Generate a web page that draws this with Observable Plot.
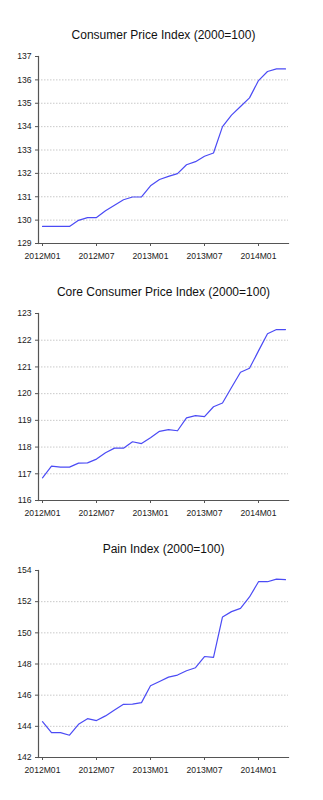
<!DOCTYPE html>
<html>
<head>
<meta charset="utf-8">
<script src="https://cdn.jsdelivr.net/npm/d3@7"></script>
<script src="https://cdn.jsdelivr.net/npm/@observablehq/plot@0.6"></script>
<style>
  html, body { margin: 0; padding: 0; background: #fff; }
  #charts { width: 323px; }
  #charts svg { display: block; overflow: visible; }
</style>
</head>
<body>
<div id="charts"></div>
<script>
// Monthly categories 2012M01 .. 2014M04
const years = [2012, 2013, 2014];
const months = [];
for (const yr of years) for (let m = 1; m <= 12; m++) {
  if (yr === 2014 && m > 4) break;
  months.push(yr + "M" + String(m).padStart(2, "0"));
}
const xTicks = ["2012M01", "2012M07", "2013M01", "2013M07", "2014M01"];

const titles = [
  "Consumer Price Index (2000=100)",
  "Core Consumer Price Index (2000=100)",
  "Pain Index (2000=100)"
];

const cpi = [129.73, 129.73, 129.73, 129.73, 129.99, 130.11, 130.11, 130.40, 130.64, 130.87,
  130.99, 130.99, 131.47, 131.74, 131.87, 131.99, 132.37, 132.50, 132.73, 132.87,
  134.00, 134.49, 134.86, 135.23, 135.97, 136.36, 136.47, 136.47];

const coreCpi = [116.85, 117.29, 117.25, 117.25, 117.40, 117.41, 117.55, 117.79, 117.96, 117.96,
  118.20, 118.13, 118.35, 118.59, 118.65, 118.61, 119.09, 119.18, 119.14, 119.51,
  119.65, 120.23, 120.80, 120.95, 121.60, 122.24, 122.40, 122.40];

const pain = [144.30, 143.60, 143.60, 143.43, 144.13, 144.49, 144.37, 144.67, 145.05, 145.41,
  145.43, 145.52, 146.60, 146.88, 147.16, 147.29, 147.57, 147.76, 148.48, 148.42,
  151.02, 151.36, 151.57, 152.30, 153.28, 153.28, 153.45, 153.41];

const yDomains = [[129, 137], [116, 123], [142, 154]];
const yTickSteps = [1, 1, 2];
const seriesList = [cpi, coreCpi, pain];

const heights = [257, 257, 286];
const marginBottoms = [14, 14, 43];

const container = document.getElementById("charts");

seriesList.forEach((values, i) => {
  const data = months.map((m, j) => ({month: m, value: values[j]}));
  const [y0, y1] = yDomains[i];
  const ticks = d3.range(y0, y1 + 0.001, yTickSteps[i]);
  const gridTicks = ticks.filter(t => t > y0 && t < y1);
  const chart = Plot.plot({
    width: 323,
    height: heights[i],
    marginTop: 56,
    marginBottom: marginBottoms[i],
    marginLeft: 38,
    marginRight: 35,
    style: {fontFamily: "'Liberation Sans', Arial, sans-serif", fontSize: "8.6px", color: "#222", background: "#fff", overflow: "visible"},
    x: {type: "point", domain: months, padding: 0},
    y: {domain: yDomains[i]},
    marks: [
      Plot.ruleY(gridTicks, {stroke: "#bbb", strokeDasharray: "1.5,1.5", strokeWidth: 0.8}),
      Plot.axisY({ticks: ticks, tickFormat: d3.format("d"), tickSize: 3, tickPadding: 4, stroke: "#555", fill: "#222", label: null, strokeWidth: 1}),
      Plot.axisX({ticks: xTicks, tickSize: 3, tickPadding: 6, stroke: "#555", fill: "#222", label: null}),
      Plot.frame({anchor: "left", stroke: "#555", strokeWidth: 1.2}),
      Plot.frame({anchor: "bottom", stroke: "#555", strokeWidth: 1.2}),
      Plot.lineY(data, {x: "month", y: "value", stroke: "#4b4bf5", strokeWidth: 1.2}),
      Plot.text([titles[i]], {frameAnchor: "top", dy: -17.5, lineAnchor: "bottom", text: d => d, fontSize: 12, fill: "#111"})
    ]
  });
  container.appendChild(chart);
});
</script>
</body>
</html>
